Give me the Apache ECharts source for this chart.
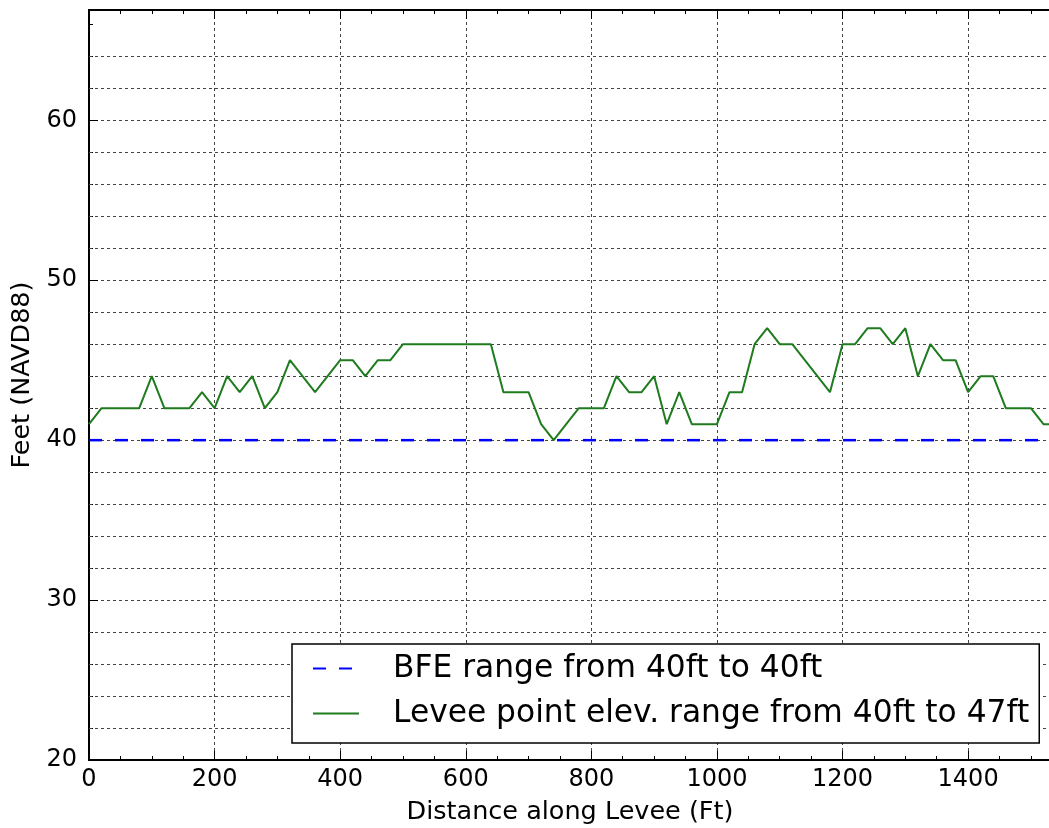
<!DOCTYPE html>
<html>
<head>
<meta charset="utf-8">
<script src="https://cdn.jsdelivr.net/npm/echarts@6/dist/echarts.min.js"></script>
<style>
html,body{margin:0;padding:0;background:#fff;}
#chart{width:1049px;height:828px;}
</style>
</head>
<body>
<div id="chart"></div>
<script>
// Distance along levee (ft)
var distance = [0,20,40,60,80,100,120,140,160,180,200,220,240,260,280,300,320,340,360,380,
  400,420,440,460,480,500,520,540,560,580,600,620,640,660,680,700,720,740,760,780,
  800,820,840,860,880,900,920,940,960,980,1000,1020,1040,1060,1080,1100,1120,1140,1160,1180,
  1200,1220,1240,1260,1280,1300,1320,1340,1360,1380,1400,1420,1440,1460,1480,1500,1520,1540];
// Levee point elevation (ft, NAVD88)
var leveeElev = [41,42,42,42,42,44,42,42,42,43,42,44,43,44,42,43,45,44,43,44,
  45,45,44,45,45,46,46,46,46,46,46,46,46,43,43,43,41,40,41,42,
  42,42,44,43,43,44,41,43,41,41,41,43,43,46,47,46,46,45,44,43,
  46,46,47,47,46,47,44,46,45,45,43,44,44,42,42,42,41,41];
// BFE line
var bfeDistance = [0,1540];
var bfeElev = [40,40];
// Minor horizontal grid levels
var minorGridLevels = [22,24,26,28,32,34,36,38,42,44,46,48,52,54,56,58,62,64];

var seriesNames = ['BFE range from 40ft to 40ft','Levee point elev. range from 40ft to 47ft'];
var xTitle = 'Distance along Levee (Ft)';
var yTitle = 'Feet (NAVD88)';

var FONT = 'DejaVu Sans';
var gridLine = {color:'#444', width:1, type:[3,3]};

var chart = echarts.init(document.getElementById('chart'), null, {renderer:'canvas'});
chart.setOption({
  animation:false,
  backgroundColor:'#fff',
  grid:{left:89, top:10, right:-2, bottom:68, outerBoundsMode:'none', containLabel:false,
    show:true, borderColor:'#000', borderWidth:2, backgroundColor:'transparent'},
  legend:{
    orient:'vertical', left:292, top:644,
    itemWidth:46, itemHeight:30, itemGap:14,
    padding:[9,10,14,20],
    borderColor:'#000', borderWidth:1.5, backgroundColor:'#fff', borderRadius:0,
    itemStyle:{color:'transparent', borderWidth:0, opacity:0},
    textStyle:{fontFamily:FONT, fontSize:31.3, color:'#000', padding:[0,0,0,29]},
    data:seriesNames
  },
  xAxis:[{
    type:'value', min:0, max:1532, interval:200,
    name:xTitle, nameLocation:'middle', nameGap:39,
    nameTextStyle:{fontFamily:FONT, fontSize:25.5, color:'#000'},
    axisLine:{show:true, lineStyle:{color:'#000', width:2}},
    axisTick:{show:true, inside:true, length:9, lineStyle:{color:'#000', width:1}},
    minorTick:{show:true, splitNumber:4, length:4, lineStyle:{color:'#000', width:1}},
    axisLabel:{fontFamily:FONT, fontSize:24, color:'#000', margin:8, showMaxLabel:false,
      formatter:function(v){return String(v);}},
    splitLine:{show:true, lineStyle:gridLine}
  },{
    type:'value', min:0, max:1532, interval:200, position:'top',
    axisLine:{show:true, lineStyle:{color:'#000', width:2}},
    axisTick:{show:true, inside:true, length:9, lineStyle:{color:'#000', width:1}},
    minorTick:{show:true, splitNumber:4, length:4, lineStyle:{color:'#000', width:1}},
    axisLabel:{show:false},
    splitLine:{show:false}
  }],
  yAxis:{
    type:'value', min:20, max:66.9, interval:10,
    name:yTitle, nameLocation:'middle', nameGap:53,
    nameTextStyle:{fontFamily:FONT, fontSize:25.5, color:'#000', padding:[0,0,0,20]},
    axisLine:{show:true, lineStyle:{color:'#000', width:2}},
    axisTick:{show:true, inside:true, length:9, lineStyle:{color:'#000', width:1}},
    minorTick:{show:true, splitNumber:5, length:4, lineStyle:{color:'#000', width:1}},
    axisLabel:{fontFamily:FONT, fontSize:24, color:'#000', margin:12, showMaxLabel:false},
    splitLine:{show:true, lineStyle:gridLine}
  },
  series:[{
    name:seriesNames[0], type:'line', symbol:'none', z:3,
    data:bfeDistance.map(function(x,i){return [x,bfeElev[i]];}),
    lineStyle:{color:'#0000ff', width:2.5, type:[13,13]},
    itemStyle:{color:'#0000ff'}
  },{
    name:seriesNames[1], type:'line', symbol:'none', z:4,
    data:distance.map(function(x,i){return [x,leveeElev[i]];}),
    lineStyle:{color:'#1e7b1e', width:2},
    itemStyle:{color:'#1e7b1e'},
    markLine:{
      silent:true, symbol:'none', label:{show:false}, animation:false,
      lineStyle:gridLine, z:1,
      data:minorGridLevels.map(function(v){return {yAxis:v};})
    }
  }]
});
</script>
</body>
</html>
